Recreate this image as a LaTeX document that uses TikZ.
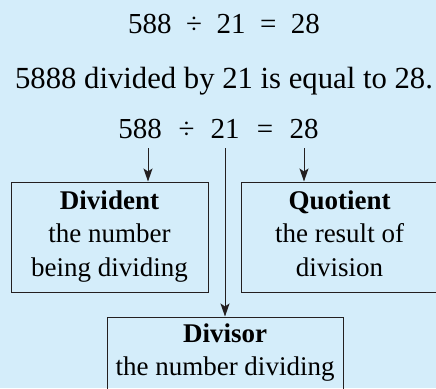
\documentclass[tikz,border=0pt]{standalone}
\usepackage{fontspec}
\setmainfont{Liberation Serif}
\usetikzlibrary{arrows.meta}
\definecolor{bgblue}{RGB}{212,237,250}
\definecolor{inkdark}{RGB}{35,31,32}

\tikzset{
  term/.style={inner sep=0pt, outer ysep=10pt, anchor=base, font=\fontsize{29}{33}\selectfont},
  namebox/.style={draw=inkdark, line width=1pt, align=center, inner sep=0pt,
    font=\fontsize{27}{33.5}\selectfont,
    execute at begin node={\rule{0pt}{26pt}}, execute at end node={\rule[-7pt]{0pt}{7pt}}},
  arr/.style={draw=inkdark, line width=1pt, -{Stealth[length=13pt,width=9pt,inset=3pt]}}
}

\begin{document}
\begin{tikzpicture}[x=1pt,y=-1pt]
  % background
  \path[use as bounding box, fill=bgblue] (0,0) rectangle (436,388);
  \clip (0,0) rectangle (436,388);

  % the sum and how it reads
  \node[anchor=base, font=\fontsize{29}{33}\selectfont] (sum) at (224,33) {588~~÷~~21~~=~~28};
  \node[anchor=base, font=\fontsize{30.7}{33}\selectfont] (words) at (224,88) {5888 divided by 21 is equal to 28.};

  % the sum again, one part per node
  \node[term] (n588) at (140,138) {588};
  \node[term] (dv) at (186.5,138) {÷};
  \node[term] (n21) at (225,138) {21};
  \node[term] (eq) at (265,138) {=};
  \node[term] (n28) at (304,138) {28};

  % names of the parts
  \node[namebox, minimum width=197pt, minimum height=110pt] (dvd) at (109.5,237) {\textbf{Divident}\\the number\\being dividing};
  \node[namebox, minimum width=197pt, minimum height=110pt] (quo) at (339.5,237) {\textbf{Quotient}\\the result of\\division};
  \node[namebox, minimum width=236pt, minimum height=72pt] (dvs) at (225,353) {\textbf{Divisor}\\the number dividing};

  % arrows
  \coordinate (a588) at ([xshift=8pt]n588.south);
  \draw[arr] (a588) -- (a588 |- dvd.north);
  \draw[arr] (n21.south) -- (n21.south |- dvs.north);
  \draw[arr] (n28.south) -- (n28.south |- quo.north);
\end{tikzpicture}
\end{document}
